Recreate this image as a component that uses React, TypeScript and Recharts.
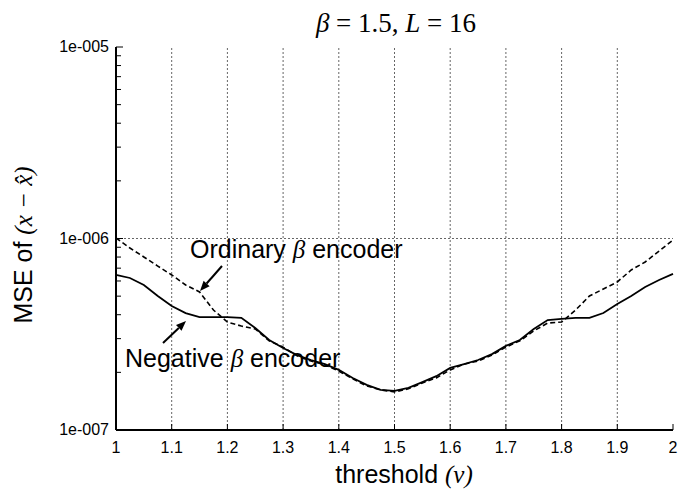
import { LineChart, Line, XAxis, YAxis, ReferenceLine } from 'recharts';

// threshold values (x axis)
const thresholds = [
  1, 1.025, 1.05, 1.075, 1.1, 1.125, 1.15, 1.175, 1.2, 1.225, 1.25, 1.275, 1.3, 1.325,
  1.35, 1.375, 1.4, 1.425, 1.45, 1.475, 1.5, 1.525, 1.55, 1.575, 1.6, 1.625, 1.65,
  1.675, 1.7, 1.725, 1.75, 1.775, 1.8, 1.825, 1.85, 1.875, 1.9, 1.925, 1.95, 1.975, 2,
];

// Ordinary beta encoder (dashed)
const ordinary = [
  1.006e-6, 8.92e-7, 8.01e-7, 7.18e-7, 6.45e-7, 5.72e-7, 5.26e-7, 4.23e-7, 3.66e-7, 3.49e-7,
  3.37e-7, 2.92e-7, 2.71e-7, 2.44e-7, 2.29e-7, 2.19e-7, 2.03e-7, 1.85e-7, 1.7e-7, 1.62e-7,
  1.58e-7, 1.64e-7, 1.76e-7, 1.87e-7, 2.06e-7, 2.21e-7, 2.29e-7, 2.46e-7, 2.71e-7, 2.92e-7,
  3.29e-7, 3.62e-7, 3.66e-7, 4.23e-7, 5.01e-7, 5.45e-7, 5.93e-7, 6.85e-7, 7.54e-7, 8.6e-7,
  9.82e-7,
];

// Negative beta encoder (solid)
const negative = [
  6.45e-7, 6.22e-7, 5.72e-7, 5.01e-7, 4.44e-7, 4.08e-7, 3.89e-7, 3.89e-7, 3.89e-7, 3.85e-7,
  3.41e-7, 2.95e-7, 2.68e-7, 2.46e-7, 2.32e-7, 2.21e-7, 2.06e-7, 1.87e-7, 1.72e-7, 1.62e-7,
  1.6e-7, 1.66e-7, 1.78e-7, 1.91e-7, 2.11e-7, 2.21e-7, 2.32e-7, 2.49e-7, 2.75e-7, 2.95e-7,
  3.37e-7, 3.75e-7, 3.8e-7, 3.85e-7, 3.85e-7, 4.08e-7, 4.55e-7, 5.01e-7, 5.58e-7, 6.07e-7,
  6.53e-7,
];

const xTicks = [1, 1.1, 1.2, 1.3, 1.4, 1.5, 1.6, 1.7, 1.8, 1.9, 2];
const xTickLabels = ['1', '1.1', '1.2', '1.3', '1.4', '1.5', '1.6', '1.7', '1.8', '1.9', '2'];
const yTicks = [
  1e-7, 2e-7, 3e-7, 4e-7, 5e-7, 6e-7, 7e-7, 8e-7, 9e-7,
  1e-6, 2e-6, 3e-6, 4e-6, 5e-6, 6e-6, 7e-6, 8e-6, 9e-6, 1e-5,
];
const yMajor = [1e-7, 1e-6, 1e-5];
const yMajorLabels = ['1e-007', '1e-006', '1e-005'];
const gridX = [1.1, 1.2, 1.3, 1.4, 1.5, 1.6, 1.7, 1.8, 1.9];
const gridY = [1e-6];

const data = thresholds.map((x, i) => ({ x, ord: ordinary[i], neg: negative[i] }));

const SANS = 'Liberation Sans, Arial, sans-serif';
const SERIF = 'Liberation Serif, Times New Roman, serif';

const majorIndex = (v: number) => yMajor.findIndex((m) => Math.abs(v / m - 1) < 1e-6);

const LeftTick = ({ x, y, payload }: any) => {
  const idx = majorIndex(payload.value);
  return (
    <g>
      <line x1={x} x2={x + (idx >= 0 ? 7 : 5)} y1={y} y2={y} stroke="#000" />
      {idx >= 0 && (
        <text x={x - 7} y={y + 5} textAnchor="end" fontSize={16} fontFamily={SANS} fill="#000">
          {yMajorLabels[idx]}
        </text>
      )}
    </g>
  );
};

const RightTick = ({ x, y, payload }: any) => {
  const idx = majorIndex(payload.value);
  return <line x1={x} x2={x - (idx >= 0 ? 7 : 5)} y1={y} y2={y} stroke="#000" />;
};

const BottomTick = ({ x, y, payload, index }: any) => (
  <g>
    <line x1={x} x2={x} y1={y} y2={y - 6} stroke="#000" />
    <text x={x} y={y + 23} textAnchor="middle" fontSize={16} fontFamily={SANS} fill="#000">
      {xTickLabels[index] ?? String(payload.value)}
    </text>
  </g>
);

const TopTick = ({ x, y }: any) => <line x1={x} x2={x} y1={y} y2={y + 6} stroke="#000" />;

const Arrow = ({ x1, y1, x2, y2 }: { x1: number; y1: number; x2: number; y2: number }) => {
  const dx = x2 - x1;
  const dy = y2 - y1;
  const len = Math.hypot(dx, dy);
  const ux = dx / len;
  const uy = dy / len;
  const hl = 10;
  const hw = 4;
  const bx = x2 - ux * hl;
  const by = y2 - uy * hl;
  return (
    <g>
      <line x1={x1} y1={y1} x2={bx} y2={by} stroke="#000" strokeWidth={2} />
      <polygon
        points={`${x2},${y2} ${bx - uy * hw},${by + ux * hw} ${bx + uy * hw},${by - ux * hw}`}
        fill="#000"
      />
    </g>
  );
};

export default function App() {
  return (
    <div style={{ position: 'absolute', left: 0, top: 0, width: 678, height: 494, background: '#fff' }}>
      <LineChart width={678} height={494} data={data} margin={{ top: 47, right: 5, bottom: 0, left: 0 }}>
        <XAxis
          xAxisId="b"
          dataKey="x"
          type="number"
          domain={[1, 2]}
          ticks={xTicks}
          height={64}
          tickSize={0}
          tickMargin={0}
          tickLine={false}
          axisLine={{ stroke: '#000', strokeWidth: 2 }}
          tick={BottomTick}
          interval={0}
        />
        <XAxis
          xAxisId="t"
          orientation="top"
          dataKey="x"
          type="number"
          domain={[1, 2]}
          ticks={xTicks}
          height={0}
          tickSize={0}
          tickMargin={0}
          tickLine={false}
          axisLine={{ stroke: '#000', strokeWidth: 2 }}
          tick={TopTick}
          interval={0}
        />
        <YAxis
          yAxisId="l"
          scale="log"
          domain={[1e-7, 1e-5]}
          ticks={yTicks}
          allowDataOverflow
          width={116}
          tickSize={0}
          tickMargin={0}
          tickLine={false}
          axisLine={{ stroke: '#000', strokeWidth: 2 }}
          tick={LeftTick}
          interval={0}
        />
        <YAxis
          yAxisId="r"
          orientation="right"
          scale="log"
          domain={[1e-7, 1e-5]}
          ticks={yTicks}
          allowDataOverflow
          width={0}
          tickSize={0}
          tickMargin={0}
          tickLine={false}
          axisLine={{ stroke: '#000', strokeWidth: 2 }}
          tick={RightTick}
          interval={0}
        />
        {gridX.map((v) => (
          <ReferenceLine key={`gx${v}`} xAxisId="b" yAxisId="l" x={v} stroke="#666" strokeDasharray="2 2" />
        ))}
        {gridY.map((v) => (
          <ReferenceLine key={`gy${v}`} xAxisId="b" yAxisId="l" y={v} stroke="#666" strokeDasharray="2 2" />
        ))}
        <Line
          xAxisId="b"
          yAxisId="l"
          type="linear"
          dataKey="ord"
          stroke="#000"
          strokeWidth={1.6}
          strokeDasharray="5 3"
          dot={false}
          isAnimationActive={false}
        />
        <Line
          xAxisId="b"
          yAxisId="l"
          type="linear"
          dataKey="neg"
          stroke="#000"
          strokeWidth={1.8}
          dot={false}
          isAnimationActive={false}
        />
      </LineChart>
      <svg
        width={678}
        height={494}
        style={{ position: 'absolute', left: 0, top: 0, pointerEvents: 'none' }}
      >
        <text x={396} y={32} textAnchor="middle" fontSize={27} fontFamily={SERIF} fill="#000">
          <tspan fontStyle="italic">β</tspan>
          {' = 1.5,  '}
          <tspan fontStyle="italic">L</tspan>
          {' = 16'}
        </text>
        <text x={190} y={258} fontSize={25} fontFamily={SANS} fill="#000">
          {'Ordinary '}
          <tspan fontFamily={SERIF} fontStyle="italic">β</tspan>
          {' encoder'}
        </text>
        <text x={125} y={367} fontSize={25} fontFamily={SANS} fill="#000">
          {'Negative '}
          <tspan fontFamily={SERIF} fontStyle="italic">β</tspan>
          {' encoder'}
        </text>
        <Arrow x1={222} y1={266} x2={200} y2={291} />
        <Arrow x1={163} y1={343} x2={186} y2={321} />
        <text
          x={0}
          y={0}
          transform="translate(32,245) rotate(-90)"
          textAnchor="middle"
          fontSize={25}
          fontFamily={SANS}
          fill="#000"
        >
          {'MSE of '}
          <tspan fontFamily={SERIF} fontStyle="italic">
            {'(x − x̂)'}
          </tspan>
        </text>
        <text x={404} y={483} textAnchor="middle" fontSize={25} fontFamily={SANS} fill="#000">
          {'threshold '}
          <tspan fontFamily={SERIF} fontStyle="italic">
            (ν)
          </tspan>
        </text>
      </svg>
    </div>
  );
}
